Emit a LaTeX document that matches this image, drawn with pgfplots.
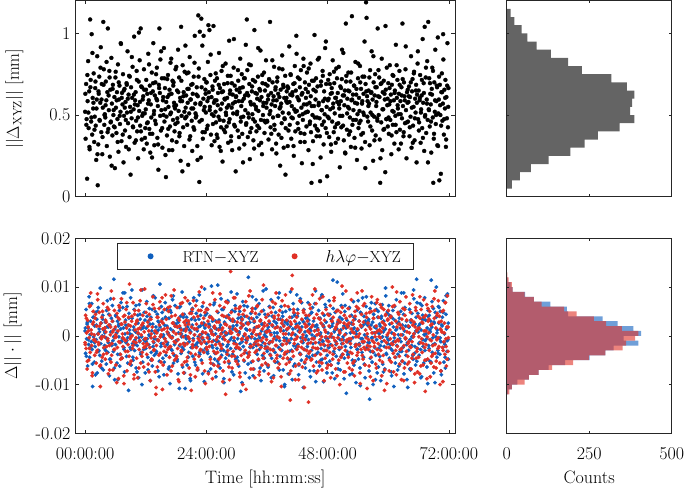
\documentclass[border=0pt]{standalone}
\usepackage{pgfplots}
\pgfplotsset{compat=1.18}
\usepackage{pgfplotstable}
\definecolor{cblue}{RGB}{15,95,190}
\definecolor{cred}{RGB}{224,48,38}
\definecolor{hgray}{RGB}{100,100,100}
\definecolor{axc}{RGB}{38,38,38}

% i: time in units of 0.1 h; t: ||Delta_XYZ|| in units of 0.005 mm;
% b, r: Delta||.|| in units of 0.0002 mm (RTN-XYZ, h-lambda-phi-XYZ)
\pgfplotstableread{
i t b r
0 104 5 -7
1 71 -18 21
2 138 27 -13
3 95 -3 3
4 22 12 -34
5 117 -31 16
6 166 8 9
7 84 -9 -25
8 129 40 -2
9 58 -22 30
10 217 1 -17
11 143 15 44
12 92 -6 6
13 199 33 -10
14 76 -14 -41
15 121 -52 12
16 108 19 25
17 151 -1 -4
18 67 -27 1
19 98 10 -20
20 133 -11 18
21 87 24 -6
22 45 -4 -28
23 119 17 10
24 172 -38 -15
25 14 2 37
26 64 29 2
27 126 -15 -9
28 147 7 24
29 93 -20 -31
30 115 49 -52
31 183 -8 13
32 79 13 -3
33 138 -26 19
34 52 0 -22
35 109 21 7
36 214 -35 33
37 156 6 -12
38 88 -13 -1
39 101 3 8
40 97 14 -24
41 141 -2 4
42 118 -29 14
43 62 9 -18
44 128 36 29
45 206 -17 -5
46 83 -7 -39
47 106 22 11
48 154 -41 -10
49 49 11 21
50 131 -24 1
51 92 4 -27
52 170 18 46
53 114 -10 -8
54 75 31 15
55 137 -5 -35
56 100 -16 6
57 86 58 -14
58 122 -33 26
59 35 7 -2
60 146 -9 9
61 109 20 -30
62 78 3 -1
63 128 -28 23
64 95 15 -12
65 162 -45 5
66 55 10 -44
67 119 -1 31
68 136 26 17
69 89 -19 -7
70 104 -6 -19
71 187 34 12
72 68 12 38
73 127 -23 -23
74 113 -3 2
75 150 44 -11
76 42 8 20
77 99 -14 -49
78 132 -37 -4
79 81 2 14
80 116 16 -16
81 61 -7 27
82 139 -21 8
83 103 30 -36
84 178 -2 3
85 90 11 -9
86 125 -56 19
87 148 23 -21
88 73 6 53
89 110 -12 -3
90 27 39 10
91 134 -30 -26
92 96 1 15
93 121 18 0
94 159 -8 -13
95 85 -25 34
96 107 9 -6
97 196 27 -40
98 66 -15 22
99 118 -4 6
100 128 4 12
101 93 -33 -2
102 154 13 -23
103 80 -10 16
104 112 21 -43
105 47 2 7
106 141 -43 26
107 105 32 -14
108 167 -6 -5
109 87 17 36
110 206 -19 -28
111 135 7 1
112 70 -1 11
113 99 47 -17
114 119 -27 21
115 123 10 -8
116 58 -14 -32
117 131 24 4
118 102 -5 48
119 84 -38 -11
120 107 -13 -3
121 143 8 33
122 65 35 -19
123 126 -3 -9
124 91 -22 14
125 175 15 -29
126 118 -9 5
127 83 28 22
128 136 0 -12
129 54 -46 -46
130 113 19 17
131 97 -17 2
132 152 5 -24
133 77 -31 9
134 129 12 40
135 188 41 -6
136 101 -7 -15
137 63 -20 28
138 124 3 -1
139 140 25 -37
140 89 9 -60
141 120 -16 -10
142 158 -4 3
143 72 22 -32
144 111 -36 19
145 33 6 -5
146 137 14 -20
147 206 -26 11
148 127 53 35
149 168 -1 -1
150 81 -11 -27
151 106 30 15
152 145 -8 6
153 60 17 -55
154 118 -23 13
155 100 1 -8
156 182 -40 -16
157 92 11 27
158 133 -3 -3
159 51 19 42
160 24 -20 -6
161 98 27 17
162 75 10 -40
163 122 -7 8
164 149 2 -14
165 110 -34 25
166 57 18 1
167 131 -12 -22
168 86 -49 30
169 164 7 -11
170 103 24 -36
171 126 -2 20
172 69 -15 -2
173 142 37 13
174 94 5 -18
175 140 -28 4
176 115 13 47
177 80 -9 -25
178 108 31 10
179 156 -6 -7
180 112 12 2
181 67 -5 -21
182 130 -24 29
183 91 16 -13
184 180 -39 -4
185 105 3 18
186 146 29 -47
187 78 -10 10
188 121 8 -9
189 44 20 33
190 208 -18 6
191 99 -1 -16
192 117 45 -30
193 161 -32 22
194 85 6 -1
195 128 -14 -38
196 62 22 14
197 153 -8 -10
198 96 -54 39
199 109 0 5
200 124 -2 16
201 151 19 -26
202 88 -30 -8
203 115 9 36
204 39 14 -1
205 132 -17 12
206 102 -6 -33
207 171 33 23
208 74 -44 3
209 119 4 -18
210 137 -12 -56
211 93 25 9
212 56 11 27
213 126 -21 -12
214 108 -3 -5
215 147 39 19
216 82 7 -24
217 197 -27 7
218 114 16 -42
219 97 -9 31
220 99 23 -12
221 134 -11 7
222 62 5 -35
223 123 -35 20
224 222 -1 -3
225 157 17 -21
226 18 42 45
227 202 -19 1
228 113 10 -15
229 48 -7 26
230 218 -25 -8
231 94 2 13
232 185 30 -28
233 71 -15 4
234 120 -4 34
235 106 13 -17
236 144 -47 -6
237 79 8 24
238 131 21 -49
239 103 -13 11
240 140 -8 27
241 83 28 -14
242 117 -16 -2
243 165 1 15
244 210 -37 -39
245 128 12 9
246 204 -3 -11
247 110 20 32
248 149 -22 -24
249 76 6 5
250 122 51 19
251 101 -10 -6
252 135 15 -44
253 89 -29 17
254 209 -5 1
255 115 9 -30
256 68 34 10
257 142 -18 37
258 104 2 -9
259 91 -42 -18
260 118 7 -4
261 145 -13 25
262 72 -26 -17
263 127 24 -31
264 98 -6 6
265 176 16 14
266 61 -1 -8
267 133 -33 43
268 107 11 -22
269 85 38 2
270 154 -20 -13
271 114 3 21
272 43 -9 8
273 129 27 -36
274 93 -15 -1
275 138 -48 29
276 120 14 -27
277 79 4 12
278 163 -23 -60
279 100 19 3
280 86 -17 11
281 121 2 -19
282 139 36 34
283 66 -9 -6
284 112 21 -26
285 191 -28 18
286 95 8 -45
287 130 -4 5
288 148 -13 66
289 74 45 24
290 109 -2 3
291 57 26 -33
292 125 -19 15
293 102 10 -16
294 158 -40 39
295 88 15 -2
296 136 -7 -21
297 116 31 7
298 31 -24 28
299 123 5 -12
300 131 11 -9
301 104 -22 14
302 81 -3 -29
303 142 18 1
304 117 -31 22
305 59 4 -13
306 128 25 -38
307 169 -14 30
308 92 -57 8
309 111 9 -20
310 150 16 -4
311 77 -6 17
312 134 35 -50
313 98 -11 11
314 120 0 -25
315 64 -26 26
316 145 20 2
317 106 -38 -15
318 186 7 35
319 90 13 -7
320 217 -5 20
321 155 30 -3
322 73 -18 -22
323 124 60 12
324 97 -1 41
325 138 -43 -17
326 46 14 6
327 116 -9 -11
328 161 23 -34
329 84 -27 18
330 129 2 -1
331 101 40 28
332 143 -12 -26
333 69 17 4
334 113 -34 -9
335 204 8 15
336 92 -3 -43
337 127 28 23
338 110 -16 -6
339 80 -10 9
340 126 19 -15
341 87 -4 31
342 147 9 -5
343 105 -25 -24
344 63 33 10
345 132 -14 -37
346 118 -2 2
347 179 16 16
348 94 -46 -12
349 122 5 25
350 52 12 -30
351 139 -20 7
352 100 -7 -2
353 115 26 52
354 152 -36 -18
355 78 1 13
356 130 22 -8
357 91 -11 -28
358 167 48 19
359 109 -29 -4
360 93 -14 4
361 136 6 -12
362 119 -32 22
363 70 21 -39
364 144 -8 15
365 101 13 -7
366 214 -19 29
367 85 3 -20
368 127 37 1
369 113 -23 -47
370 58 -6 11
371 140 10 35
372 97 29 -15
373 123 -41 -3
374 159 15 20
375 82 -1 -26
376 111 -17 8
377 134 24 -10
378 65 -4 44
379 118 9 -23
380 141 3 -20
381 99 -27 9
382 126 17 -33
383 76 -12 17
384 157 44 -2
385 108 -5 26
386 38 -21 -14
387 131 8 5
388 114 30 -42
389 90 -15 13
390 173 -9 36
391 103 20 -9
392 137 -35 -23
393 60 11 10
394 121 -2 -5
395 95 -50 31
396 148 14 -17
397 84 25 2
398 117 -18 -29
399 129 6 16
400 115 -6 7
401 62 15 -16
402 133 -39 30
403 102 2 -5
404 184 -16 -27
405 88 27 19
406 125 10 -66
407 149 -24 -36
408 71 -3 12
409 111 19 48
410 124 -45 62
411 96 7 3
412 138 33 -21
413 50 -10 24
414 107 23 -8
415 160 -29 15
416 80 1 -45
417 130 -13 9
418 197 12 -3
419 105 42 -14
420 122 20 -1
421 146 -9 23
422 83 5 -11
423 118 -30 -29
424 99 13 8
425 134 -18 36
426 67 38 -19
427 155 -2 6
428 109 -25 -6
429 41 9 17
430 127 16 -32
431 94 -7 1
432 169 -53 26
433 113 27 -14
434 77 -14 -53
435 140 4 12
436 103 -33 -4
437 121 18 21
438 86 0 -24
439 152 -21 10
440 104 -11 15
441 128 34 -8
442 57 -4 -68
443 137 12 21
444 115 -22 3
445 92 7 -16
446 163 -42 28
447 79 23 -25
448 17 -15 9
449 142 1 -3
450 100 29 42
451 68 -8 -12
452 131 15 -31
453 111 -36 18
454 198 -1 5
455 87 10 -20
456 119 46 -7
457 145 -19 33
458 74 -27 -38
459 97 6 1
460 135 8 -13
461 81 -17 6
462 112 26 18
463 170 -7 -27
464 96 -31 38
465 19 18 -4
466 48 3 -19
467 141 -13 13
468 106 40 -1
469 88 -24 -35
470 154 -5 23
471 117 11 10
472 64 -47 -9
473 129 21 -46
474 101 -10 16
475 182 32 -23
476 84 -2 4
477 138 14 27
478 110 -28 -15
479 25 -20 -5
480 98 -3 22
481 143 22 -30
482 120 -12 -6
483 73 36 10
484 150 -26 -17
485 107 9 31
486 126 -9 -43
487 55 17 2
488 133 -1 15
489 92 -38 -10
490 167 13 -24
491 114 28 19
492 79 -16 -2
493 139 4 39
494 102 -44 -13
495 121 24 7
496 66 -6 -34
497 157 -21 25
498 89 7 -8
499 116 55 12
500 127 14 -2
501 90 -28 16
502 159 1 -25
503 108 -14 5
504 36 19 -50
505 135 -35 14
506 117 6 24
507 85 31 -12
508 144 -8 -4
509 99 -19 29
510 124 43 -19
511 176 -4 8
512 69 10 -37
513 112 -23 21
514 130 25 1
515 53 -11 -15
516 212 2 46
517 148 -59 -6
518 82 16 11
519 120 -6 -28
520 110 -19 9
521 152 10 -22
522 76 -5 13
523 129 29 -33
524 97 -40 20
525 141 3 -8
526 61 -12 -3
527 118 21 37
528 221 12 -18
529 88 -25 4
530 125 -2 -28
531 106 35 16
532 136 -30 3
533 72 8 -41
534 115 17 25
535 165 -9 -11
536 94 -48 -1
537 132 5 30
538 45 26 -20
539 101 -14 7
540 145 6 -17
541 84 -24 28
542 121 15 -9
543 105 -10 2
544 160 -33 -38
545 93 24 11
546 132 -3 -14
547 59 9 22
548 114 -17 46
549 147 39 -6
550 78 -7 -24
551 126 -22 14
552 100 20 -12
553 190 1 33
554 67 -43 -30
555 138 13 6
556 238 30 -2
557 219 -13 19
558 123 -1 -54
559 117 11 -10
560 92 -7 13
561 130 17 -4
562 114 -36 -31
563 63 -65 24
564 155 28 -11
565 103 -16 7
566 127 11 -22
567 178 -2 40
568 81 -27 3
569 119 14 -16
570 44 -50 -46
571 140 22 18
572 98 3 -7
573 124 -12 26
574 150 33 -1
575 75 -20 -29
576 111 8 10
577 134 -4 34
578 96 -38 -14
579 206 19 5
580 123 25 -8
581 100 -13 19
582 146 2 -1
583 70 -21 -25
584 17 10 32
585 138 -46 -15
586 91 18 4
587 169 -6 -41
588 57 32 14
589 128 -29 8
590 107 4 -20
591 142 15 27
592 83 -11 -5
593 119 -34 -35
594 30 7 11
595 131 41 22
596 95 -18 -12
597 158 -1 -49
598 112 23 1
599 86 -8 17
600 139 -4 26
601 77 31 -12
602 113 -23 -36
603 161 12 6
604 94 -9 -3
605 125 20 20
606 52 -37 -27
607 137 3 13
608 105 -15 50
609 88 26 -9
610 148 9 -18
611 118 -52 2
612 65 -2 31
613 130 16 -22
614 99 -28 -6
615 186 6 15
616 79 37 -40
617 121 -10 9
618 143 13 -11
619 108 -19 24
620 101 1 -5
621 126 -31 12
622 154 18 -21
623 82 -16 35
624 117 8 -14
625 65 -6 1
626 134 44 -45
627 96 -26 17
628 212 11 -26
629 111 -12 28
630 74 22 7
631 140 -39 -10
632 123 5 -33
633 90 29 21
634 156 -3 -2
635 106 -20 40
636 47 15 -16
637 128 -45 4
638 115 -7 -29
639 92 10 -8
640 116 -15 10
641 135 9 -27
642 74 27 3
643 122 -4 -11
644 98 -35 24
645 172 14 -34
646 60 -10 16
647 129 23 -6
648 144 -1 42
649 87 -24 -19
650 110 47 -1
651 153 2 14
652 69 -18 -48
653 120 12 9
654 103 -30 29
655 137 19 -23
656 42 58 5
657 125 34 -13
658 163 -13 -37
659 95 4 20
660 130 10 -22
661 91 -20 8
662 118 -7 -39
663 149 33 18
664 66 -14 -7
665 107 6 27
666 124 -42 -3
667 84 17 -17
668 193 21 13
669 115 -11 -30
670 139 -28 37
671 56 1 5
672 208 39 -12
673 100 -5 -57
674 146 16 21
675 78 -25 -9
676 119 -3 32
677 166 8 -1
678 94 -49 -24
679 214 26 15
680 107 -10 3
681 145 21 -15
682 86 -26 25
683 126 4 -42
684 113 15 11
685 54 57 -5
686 132 9 -21
687 158 -17 30
688 97 -2 -10
689 17 28 1
690 71 -38 -32
691 140 13 18
692 104 -8 46
693 180 24 -18
694 89 -1 8
695 117 50 -26
696 136 -22 -4
697 63 6 23
698 195 -15 -13
699 102 30 36
700 119 13 -11
701 20 -3 20
702 137 -19 -28
703 100 25 7
704 28 -6 -36
705 128 -40 15
706 151 11 4
707 93 19 -12
708 114 -12 -47
709 168 36 26
710 76 -27 -6
711 131 2 13
712 108 -9 -19
713 143 -33 34
714 61 22 -3
715 122 7 -31
716 96 -16 9
717 188 43 41
718 85 -4 -16
719 133 -24 -2
}\scat

% further samples, between the ones above
\pgfplotstableread{
i t b r
0.5 126 8 -9
2.5 88 -21 18
4.5 149 14 -26
6.5 103 -4 5
8.5 61 33 -13
10.5 134 -12 31
12.5 97 2 2
14.5 176 -29 -38
16.5 115 19 14
18.5 82 -7 -4
20.5 141 -40 22
22.5 108 11 -17
24.5 52 25 43
26.5 129 -16 -7
28.5 94 4 10
30.5 158 -2 -30
32.5 119 -33 -1
34.5 73 17 25
36.5 137 6 -19
38.5 100 -10 8
40.5 112 -15 16
42.5 165 26 -11
44.5 79 -3 -3
46.5 124 9 27
48.5 146 -24 -35
50.5 91 38 9
52.5 38 -8 -20
54.5 132 15 4
56.5 106 -1 38
58.5 85 -45 -14
60.5 153 21 1
62.5 118 3 -48
64.5 67 -19 19
66.5 140 12 -6
68.5 99 -31 29
70.5 188 7 -24
72.5 121 -6 12
74.5 76 29 -2
76.5 130 -12 -41
78.5 109 44 21
80.5 94 11 -5
82.5 137 -5 34
84.5 120 -28 -16
86.5 58 18 11
88.5 147 2 -29
90.5 104 -14 -1
92.5 171 47 20
94.5 86 -22 -10
96.5 125 6 -44
98.5 113 -9 26
100.5 69 31 -7
102.5 143 -37 15
104.5 97 13 3
106.5 201 -2 -33
108.5 116 22 8
110.5 80 -17 47
112.5 134 -50 -21
114.5 102 8 13
116.5 156 -4 -12
118.5 72 16 -3
120.5 131 -6 24
122.5 90 20 -8
124.5 114 -35 10
126.5 162 1 -37
128.5 77 12 17
130.5 127 -25 -2
132.5 48 27 -25
134.5 139 -11 32
136.5 105 -3 -14
138.5 93 39 5
140.5 150 -18 -53
142.5 118 5 19
144.5 64 15 -4
146.5 133 -42 28
148.5 99 9 -18
150.5 178 -8 1
152.5 84 24 39
154.5 122 -1 -30
156.5 145 -27 7
158.5 107 34 -11
160.5 116 18 -17
162.5 144 -9 4
164.5 83 3 29
166.5 125 -32 -12
168.5 101 26 -1
170.5 169 -14 41
172.5 57 -1 -31
174.5 136 41 13
176.5 111 -20 -6
178.5 89 10 21
180.5 159 -5 -23
182.5 96 -26 9
184.5 128 14 -45
186.5 74 -54 16
188.5 117 30 2
190.5 142 2 -15
192.5 31 -12 34
194.5 123 19 -8
196.5 104 -38 -27
198.5 185 7 11
200.5 98 -3 7
202.5 132 13 -22
204.5 152 -22 15
206.5 70 6 -3
208.5 119 -46 -40
210.5 108 17 23
212.5 138 28 -9
214.5 85 -10 36
216.5 164 1 1
218.5 102 -30 -19
220.5 125 36 12
222.5 45 -7 -33
224.5 147 9 26
226.5 92 -17 -5
228.5 115 21 -14
230.5 134 -2 50
232.5 79 -39 -2
234.5 197 11 18
236.5 110 48 -36
238.5 126 -13 3
240.5 140 23 -12
242.5 87 -18 27
244.5 121 -1 -6
246.5 106 10 19
248.5 174 -34 -28
250.5 63 4 2
252.5 131 -12 44
254.5 99 32 -16
256.5 118 -24 8
258.5 151 15 -37
260.5 76 -6 14
262.5 112 52 -1
264.5 137 -29 -24
266.5 94 8 31
268.5 56 -15 -10
270.5 128 27 6
272.5 160 -3 -47
274.5 82 -44 20
276.5 119 13 -4
278.5 103 1 35
280.5 109 -11 20
282.5 148 35 -15
284.5 91 -20 -32
286.5 126 3 9
288.5 68 16 3
290.5 139 -37 -21
292.5 114 7 17
294.5 193 -5 -8
296.5 86 25 39
298.5 122 -13 -26
300.5 101 43 5
302.5 155 -26 -12
304.5 73 2 28
306.5 133 -8 -42
308.5 97 19 13
310.5 117 -48 -3
312.5 42 11 22
314.5 145 31 -18
316.5 124 -17 1
318.5 88 -4 -55
320.5 127 6 -2
322.5 102 -29 13
324.5 162 18 -20
326.5 79 -12 46
328.5 113 -2 -11
330.5 135 28 25
332.5 95 -41 -34
334.5 59 14 6
336.5 141 -7 -17
338.5 107 37 1
340.5 120 -19 30
342.5 182 1 -9
344.5 84 22 -40
346.5 130 -33 15
348.5 66 -10 -5
350.5 149 12 37
352.5 111 46 -23
354.5 93 -23 10
356.5 138 4 -13
358.5 115 -1 4
360.5 92 -16 11
362.5 124 9 -30
364.5 143 30 5
366.5 105 -6 -14
368.5 77 -43 24
370.5 167 20 -6
372.5 118 -14 -43
374.5 88 3 18
376.5 131 -27 33
378.5 53 13 -10
380.5 146 -1 -1
382.5 99 39 21
384.5 122 -35 -29
386.5 110 17 7
388.5 72 -9 -52
390.5 156 24 16
392.5 134 5 2
394.5 96 -52 -19
396.5 27 15 42
398.5 121 -3 -8
400.5 135 12 -23
402.5 81 -24 8
404.5 116 -7 -39
406.5 150 45 14
408.5 97 -15 1
410.5 128 2 -16
412.5 62 -31 27
414.5 139 21 -4
416.5 104 8 -31
418.5 175 -11 19
420.5 90 27 10
422.5 119 -40 -45
424.5 144 4 4
426.5 78 -19 35
428.5 125 34 -12
430.5 101 -5 -2
432.5 160 14 24
434.5 67 -28 -27
436.5 132 -2 9
438.5 113 19 -15
440.5 104 -8 5
442.5 157 16 -18
444.5 89 -36 32
446.5 123 5 -7
448.5 111 24 -24
450.5 40 -20 11
452.5 142 -3 -3
454.5 97 33 48
456.5 129 -47 -13
458.5 83 11 22
460.5 168 -13 -36
462.5 115 18 2
464.5 74 1 17
466.5 136 -25 -9
468.5 106 42 -28
470.5 148 -6 40
472.5 92 9 -15
474.5 120 -15 6
476.5 190 29 -1
478.5 78 -38 -33
480.5 118 3 -10
482.5 96 -12 21
484.5 138 22 -1
486.5 64 -30 -30
488.5 127 10 15
490.5 109 57 -19
492.5 153 -18 36
494.5 85 6 -5
496.5 121 -9 9
498.5 145 26 -41
500.5 71 -34 26
502.5 113 14 -12
504.5 99 -4 3
506.5 133 -21 -22
508.5 180 17 51
510.5 87 -1 -8
512.5 124 -44 13
514.5 54 31 -37
516.5 141 8 18
518.5 102 -16 -4
520.5 130 -20 28
522.5 108 28 -3
524.5 80 -5 -17
526.5 152 13 7
528.5 119 -39 -35
530.5 94 7 12
532.5 136 19 -26
534.5 60 -26 20
536.5 125 2 -9
538.5 114 -14 44
540.5 163 36 -1
542.5 90 -8 15
544.5 140 -51 -49
546.5 76 23 10
548.5 117 -3 -20
550.5 103 11 31
552.5 147 -29 -6
554.5 35 15 -14
556.5 129 40 23
558.5 98 -11 2
560.5 111 15 -14
562.5 146 -7 9
564.5 86 -23 -42
566.5 128 34 25
568.5 100 -2 -5
570.5 172 -17 18
572.5 69 9 -11
574.5 134 -45 3
576.5 116 27 -33
578.5 93 4 37
580.5 155 -32 -19
582.5 122 12 6
584.5 47 -10 -2
586.5 139 20 29
588.5 107 -1 -27
590.5 82 -37 13
592.5 126 6 -56
594.5 209 49 21
596.5 95 -19 -7
598.5 120 25 16
600.5 97 -4 3
602.5 133 21 -25
604.5 117 -13 19
606.5 75 -41 -8
608.5 149 18 30
610.5 104 -6 -37
612.5 127 30 1
614.5 88 -22 -15
616.5 161 7 45
618.5 112 -35 -4
620.5 58 14 22
622.5 137 -3 -29
624.5 101 25 11
626.5 124 -16 -13
628.5 144 1 8
630.5 79 44 -46
632.5 118 -28 27
634.5 184 10 -3
636.5 91 -9 16
638.5 131 -53 -21
640.5 123 9 -6
642.5 85 -34 33
644.5 140 16 -12
646.5 109 -1 -23
648.5 66 -20 11
650.5 151 38 2
652.5 96 -11 -39
654.5 130 5 26
656.5 115 -26 -16
658.5 178 23 7
660.5 81 -8 -1
662.5 121 12 40
664.5 103 -43 -31
666.5 143 31 14
668.5 72 -4 -8
670.5 127 17 19
672.5 98 -15 -25
674.5 158 2 5
676.5 114 -32 -44
678.5 42 20 28
680.5 106 -13 17
682.5 139 6 -4
684.5 92 -27 -28
686.5 125 35 12
688.5 154 -9 -19
690.5 77 14 38
692.5 118 -48 -9
694.5 100 19 -33
696.5 134 3 21
698.5 62 -18 -2
700.5 147 29 14
702.5 112 -2 -50
704.5 87 -36 6
706.5 128 10 25
708.5 199 24 -15
710.5 95 -7 3
712.5 121 -22 34
714.5 70 41 -11
716.5 136 -5 -24
718.5 110 13 9
}\scatb

% top histogram: lower bin edge (units 0.005 mm), counts
\pgfplotstableread{
e c
10 16
20 40
30 73
40 127
50 193
60 236
70 276
80 342
90 387
100 374
110 380
120 387
130 364
140 317
150 228
160 186
170 134
180 91
190 63
200 45
210 23
220 12
230 0
}\htop

% bottom histograms: lower bin edge (units 0.0002 mm), counts blue, red
\pgfplotstableread{
e cb cr
-60 4 8
-55 16 16
-50 32 54
-45 67 67
-40 97 97
-35 127 138
-30 177 201
-25 251 249
-20 299 299
-15 324 351
-10 399 362
-5 354 389
0 407 399
5 384 349
10 336 301
15 291 264
20 186 212
25 182 174
30 132 106
35 82 82
40 56 54
45 18 18
50 12 16
55 3 6
60 0 2
65 0 0
}\hbot

\pgfplotsset{
  myaxis/.style={
    scale only axis, anchor=south west,
    axis line style={axc, line width=0.6pt},
    tick style={axc, line width=0.6pt},
    tick align=inside, tick pos=both,
    xticklabel pos=left, yticklabel pos=left,
    tick label style={font=\fontsize{18}{20}\selectfont, text=black},
    label style={font=\fontsize{18}{20}\selectfont},
    xticklabel style={anchor=base, yshift=-26pt},
    yticklabel style={xshift=-1.5pt},
  },
}

\begin{document}
\begin{tikzpicture}
\useasboundingbox (0,0) rectangle (685pt,488pt);

% top-left scatter
\begin{axis}[myaxis, at={(75.5pt,291.3pt)}, width=379.5pt, height=196pt,
  xmin=-19, xmax=732, ymin=0, ymax=240,
  xtick={0,240,480,720}, xticklabels={},
  ytick={0,100,200}, yticklabels={0,0.5,1},
  major tick length=3.8pt,
  ylabel={$||\Delta_{\mathrm{XYZ}}||$ [mm]},
  ylabel style={at={(axis description cs:-0.161,0.5)}, anchor=center}]
\addplot[only marks, mark=*, mark size=2pt, color=black, line width=0.3pt] table[x=i, y=t] {\scat};
\addplot[only marks, mark=*, mark size=2pt, color=black, line width=0.3pt] table[x=i, y=t] {\scatb};
\end{axis}

% top-right histogram
\begin{axis}[myaxis, at={(506.7pt,291.3pt)}, width=165pt, height=196pt,
  xmin=0, xmax=500, ymin=0, ymax=240,
  xtick={0,250,500}, xticklabels={},
  ytick={0,100,200}, yticklabels={},
  major tick length=2.5pt, axis on top]
\addplot[xbar interval, fill=hgray, draw=none] table[x=c, y=e] {\htop};
\end{axis}

% bottom-left scatter
\begin{axis}[myaxis, at={(75.5pt,54.7pt)}, width=379.5pt, height=195pt,
  xmin=-19, xmax=732, ymin=-100, ymax=100,
  xtick={0,240,480,720}, xticklabels={00:00:00,24:00:00,48:00:00,72:00:00},
  ytick={-100,-50,0,50,100}, yticklabels={-0.02,-0.01,0,0.01,0.02},
  major tick length=3.8pt,
  xlabel={Time [hh:mm:ss]},
  xlabel style={at={(axis description cs:0.5,0)}, anchor=base, yshift=-50pt},
  ylabel={$\Delta||\cdot||$ [mm]},
  ylabel style={at={(axis description cs:-0.166,0.5)}, anchor=center},
  legend columns=2, legend cell align=left,
  legend style={at={(0.5,0.976)}, anchor=north, draw=axc, line width=0.6pt, fill=white,
    font=\fontsize{16}{18}\selectfont, inner xsep=0pt, inner ysep=5pt, column sep=0pt,
    nodes={inner sep=0pt, text height=14pt, text depth=2pt}}]
\addplot[only marks, mark=*, mark size=1.8pt, color=cblue, line width=0.3pt,
  legend image code/.code={\path[draw=none] (0pt,0pt) rectangle (65pt,0pt); \fill[cblue, draw=none] (33pt,0pt) circle (3pt);}]
  table[x=i, y=b] {\scat};
\addlegendentry{RTN$-$XYZ}
\addplot[only marks, mark=*, mark size=1.8pt, color=cblue, line width=0.3pt, forget plot]
  table[x=i, y=b] {\scatb};
\addplot[only marks, mark=*, mark size=1.8pt, color=cred, line width=0.3pt,
  legend image code/.code={\path[draw=none] (0pt,0pt) rectangle (67pt,0pt); \fill[cred, draw=none] (36pt,0pt) circle (3pt);}]
  table[x=i, y=r] {\scat};
\addlegendentry{$h\lambda\varphi$$-$XYZ\hspace*{12pt}}
\addplot[only marks, mark=*, mark size=1.8pt, color=cred, line width=0.3pt, forget plot]
  table[x=i, y=r] {\scatb};
\end{axis}

% bottom-right histogram
\begin{axis}[myaxis, at={(506.7pt,54.7pt)}, width=165pt, height=195pt,
  xmin=0, xmax=500, ymin=-100, ymax=100,
  xtick={0,250,500}, xticklabels={0,250,500},
  ytick={-100,-50,0,50,100}, yticklabels={},
  major tick length=2.5pt, axis on top,
  xlabel={Counts},
  xlabel style={at={(axis description cs:0.5,0)}, anchor=base, yshift=-50pt}]
\addplot[xbar interval, fill=cblue, fill opacity=0.6, draw=none] table[x=cb, y=e] {\hbot};
\addplot[xbar interval, fill=cred, fill opacity=0.6, draw=none] table[x=cr, y=e] {\hbot};
\end{axis}
\end{tikzpicture}
\end{document}
